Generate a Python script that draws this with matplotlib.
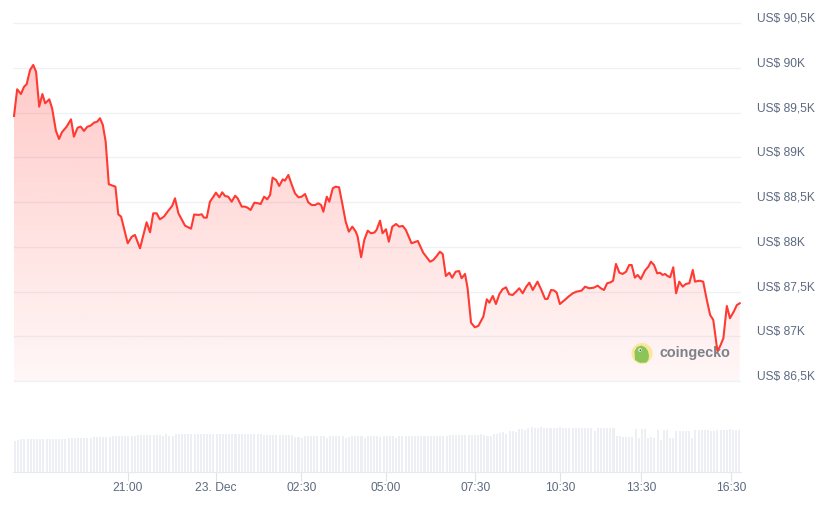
import numpy as np
import matplotlib
matplotlib.use("Agg")
import matplotlib.pyplot as plt
from matplotlib.transforms import Affine2D, blended_transform_factory, ScaledTranslation
from matplotlib.patches import Circle, Polygon

plt.rcParams['font.family'] = ['Liberation Sans', 'DejaVu Sans']

# ---------------- data ----------------
price_x = [
    0.0, 1.0, 2.2, 3.2, 4.0, 5.1, 6.1, 7.0, 8.0, 9.0, 9.9, 11.2, 12.1, 13.3, 14.3, 15.2,
    16.7, 18.1, 19.0, 20.2, 21.2, 22.2, 23.3, 24.3, 25.4, 26.4, 27.3, 28.2, 29.1, 30.1,
    32.2, 33.1, 34.0, 36.1, 37.4, 38.4, 40.0, 42.1, 43.2, 44.2, 45.3, 46.3, 47.6, 49.0,
    50.2, 51.1, 52.2, 54.3, 56.2, 57.2, 58.5, 59.6, 60.3, 61.2, 62.2, 63.3, 64.1, 65.2,
    66.1, 67.0, 68.0, 69.1, 70.2, 71.0, 72.3, 73.3, 74.1, 75.1, 76.3, 77.6, 78.3, 79.4,
    80.4, 81.3, 82.1, 83.2, 84.2, 85.3, 86.0, 87.1, 88.2, 89.2, 90.3, 91.3, 92.4, 93.4,
    94.5, 95.6, 96.6, 97.5, 98.2, 99.3, 100.1, 101.2, 102.1, 103.2, 104.2, 105.3, 106.3,
    107.4, 108.5, 109.1, 110.2, 111.2, 112.3, 113.3, 114.4, 115.1, 116.2, 117.0, 118.1,
    119.0, 120.1, 121.3, 122.3, 123.4, 124.4, 126.2, 128.2, 129.9, 131.0, 132.1, 133.1,
    134.2, 135.2, 136.1, 137.1, 138.2, 139.1, 140.2, 141.3, 142.1, 143.2, 144.0, 145.1,
    146.3, 147.4, 149.0, 150.1, 150.9, 152.0, 153.0, 154.1, 155.1, 156.2, 157.2, 158.3,
    159.4, 160.4, 161.5, 162.5, 163.6, 164.7, 166.2, 167.5, 168.6, 169.4, 170.5, 171.5,
    172.3, 173.3, 174.6, 176.0, 177.4, 178.6, 180.2, 181.3, 182.6, 184.1, 185.3, 186.3,
    187.3, 188.3, 189.4, 190.2, 191.1, 192.2, 193.2, 194.3, 195.3, 196.1, 197.1, 198.0,
    199.0, 200.3, 201.4, 202.2, 203.2, 204.2, 205.1, 205.9, 206.7, 207.5, 208.3, 209.3,
    210.2, 211.2, 212.3, 213.3, 214.4, 215.5, 216.2, 217.6, 218.8, 219.9, 221.0, 222.0,
    223.3, 224.1, 225.2, 226.3, 227.3, 228.5, 229.5, 230.4,
]
price = [
    89463, 89762, 89709, 89791, 89817, 89978, 90034, 89959, 89568, 89709, 89605, 89650,
    89549, 89299, 89206, 89281, 89344, 89426, 89232, 89333, 89344, 89296, 89344, 89355,
    89389, 89400, 89438, 89363, 89176, 88700, 88673, 88364, 88338, 88040, 88114, 88133,
    87984, 88275, 88163, 88375, 88375, 88308, 88338, 88405, 88457, 88543, 88375, 88237,
    88203, 88362, 88357, 88364, 88327, 88327, 88505, 88561, 88606, 88554, 88610, 88569,
    88561, 88505, 88572, 88543, 88450, 88450, 88439, 88412, 88494, 88487, 88479, 88561,
    88532, 88580, 88774, 88748, 88681, 88755, 88740, 88804, 88692, 88599, 88554, 88561,
    88591, 88498, 88468, 88468, 88487, 88468, 88393, 88561, 88505, 88655, 88673, 88666,
    88487, 88282, 88170, 88226, 88170, 88114, 87884, 88077, 88181, 88152, 88160, 88189,
    88293, 88152, 88197, 88058, 88226, 88256, 88226, 88234, 88189, 88040, 88066, 87935,
    87884, 87834, 87853, 87898, 87946, 87920, 87674, 87711, 87655, 87722, 87730, 87649,
    87697, 87537, 87152, 87101, 87116, 87220, 87414, 87376, 87451, 87361, 87473, 87526,
    87548, 87470, 87462, 87499, 87537, 87481, 87548, 87600, 87518, 87611, 87511, 87418,
    87418, 87518, 87512, 87488, 87361, 87399, 87443, 87481, 87499, 87511, 87555, 87537,
    87544, 87566, 87537, 87518, 87593, 87604, 87622, 87809, 87711, 87697, 87722, 87797,
    87797, 87656, 87686, 87641, 87734, 87779, 87834, 87797, 87704, 87711, 87686, 87697,
    87674, 87660, 87772, 87481, 87611, 87555, 87585, 87593, 87742, 87611, 87622, 87611,
    87414, 87239, 87183, 86839, 86884, 86978, 87339, 87202, 87276, 87350, 87369,
]
volume = [
    30.8, 31.5, 32.2, 32.2, 32.5, 32.5, 32.5, 32.5, 32.5, 32.5, 32.5, 32.5, 32.5, 32.5,
    32.5, 32.5, 32.5, 33.5, 33.5, 33.5, 33.5, 33.5, 33.5, 33.5, 33.5, 34.2, 34.5, 34.5,
    34.5, 34.5, 34.5, 35.6, 35.6, 35.6, 35.6, 35.6, 35.6, 35.6, 35.6, 36.5, 36.5, 36.5,
    36.5, 36.5, 36.5, 36.5, 36.5, 35.5, 37.5, 35.5, 35.5, 37.5, 37.5, 37.5, 37.5, 37.5,
    37.5, 37.5, 37.5, 37.5, 37.5, 37.5, 37.5, 37.5, 37.5, 37.5, 37.5, 37.5, 37.5, 37.5,
    37.5, 37.5, 37.5, 37.5, 37.5, 37.5, 37.5, 37.5, 37.5, 36.5, 36.5, 36.5, 36.5, 36.5,
    36.5, 36.5, 36.5, 36.5, 36.5, 34.2, 34.2, 33.5, 35.5, 35.5, 35.5, 35.5, 35.5, 35.5,
    35.5, 33.5, 35.5, 35.5, 35.5, 35.5, 35.5, 33.5, 34.2, 35.5, 35.5, 35.5, 35.5, 33.5,
    35.5, 35.5, 35.5, 35.5, 34.2, 35.5, 35.5, 35.5, 35.5, 33.5, 35.5, 35.5, 35.5, 35.5,
    35.5, 35.5, 35.5, 35.5, 35.5, 35.5, 35.5, 35.5, 35.5, 35.5, 35.5, 35.5, 36.5, 36.5,
    36.5, 36.5, 36.5, 36.5, 36.5, 36.5, 36.5, 36.5, 37.5, 36.5, 35.5, 35.5, 37.5, 37.5,
    38.8, 39.2, 37.5, 40.8, 40.8, 39.8, 42.2, 42.2, 41.5, 43.5, 44.5, 43.5, 43.5, 44.5,
    43.5, 43.5, 43.5, 43.5, 43.5, 44.5, 43.5, 43.5, 43.5, 43.5, 43.5, 43.5, 43.5, 43.5,
    43.5, 43.5, 40.8, 43.5, 43.5, 43.5, 43.5, 43.5, 43.5, 35.5, 35.5, 34.2, 34.2, 34.2,
    34.2, 42.2, 33.2, 42.2, 42.2, 33.2, 34.2, 33.2, 41.5, 31.5, 41.5, 41.5, 33.2, 33.2,
    40.8, 40.8, 40.8, 40.8, 40.8, 33.8, 41.5, 41.5, 41.5, 41.5, 41.5, 40.5, 40.5, 41.5,
    41.5, 41.5, 41.5, 42.5, 41.5, 41.5, 41.5,
]
tick_pos = [36.1, 64.2, 91.2, 118.1, 146.5, 173.4, 199.0, 227.7]
tick_labels = ["21:00", "23. Dec", "02:30", "05:00", "07:30", "10:30", "13:30", "16:30"]
price_ticks = [86500, 87000, 87500, 88000, 88500, 89000, 89500, 90000, 90500]

# ---------------- style ----------------
W, H = 828, 508
LINE = "#ff3a33"
GRID = "#eff2f5"
TEXT = "#5d6a80"
VOL = "#edeff5"
FS = 8.64  # 12 px

fig = plt.figure(figsize=(W / 100, H / 100), dpi=100)
fig.patch.set_facecolor("white")


def fx(px):
    return px / W


def fy(py):
    return 1 - py / H


XLIM = (-0.32, 230.8)

# ---------------- price pane ----------------
top_px, bot_px = 18.8, 385.5
ax = fig.add_axes([fx(13), fy(bot_px), fx(741) - fx(13), (bot_px - top_px) / H])
ax.set_facecolor("none")
ax.hlines(price_ticks, XLIM[0], XLIM[1], color=GRID, lw=1.0, zorder=0)

poly = ax.fill_between(price_x, price, 86500, color="none", lw=0)
n = 256
grad = np.zeros((n, 1, 4))
grad[:, 0, 0] = 255 / 255
grad[:, 0, 1] = 58 / 255
grad[:, 0, 2] = 51 / 255
grad[:, 0, 3] = np.linspace(0.27, 0.04, n)
im = ax.imshow(grad, extent=[price_x[0], price_x[-1], 86500, max(price)],
               aspect="auto", origin="upper", zorder=1, interpolation="bilinear")
im.set_clip_path(poly.get_paths()[0], transform=ax.transData)

ax.plot(price_x, price, color=LINE, lw=1.5, solid_joinstyle="round", zorder=3)

# watermark logo (pixel coordinates)
pxT = Affine2D().scale(1 / W, -1 / H).translate(0, 1) + fig.transFigure
ax.add_patch(Circle((642, 353.5), 10.5, transform=pxT, facecolor="#f9e79c",
                    edgecolor="none", zorder=2, clip_on=False))
gecko = [(635, 360), (634.5, 351), (637, 347), (641.5, 345.5), (645.5, 347.5),
         (648, 351), (649, 355.5), (648.5, 359.5), (646.5, 362.5), (640, 362.8)]
ax.add_patch(Polygon(gecko, closed=True, transform=pxT, facecolor="#8dc45a",
                     edgecolor="none", zorder=2, clip_on=False))
ax.add_patch(Circle((640, 350), 1.7, transform=pxT, facecolor="white",
                    edgecolor="none", zorder=2, clip_on=False))
ax.add_patch(Circle((640.3, 350.2), 0.85, transform=pxT, facecolor="#4a4a4a",
                    edgecolor="none", zorder=2, clip_on=False))
ax.text(660, 353.5, "coingecko", transform=pxT, va="center", ha="left",
        fontsize=10.4, fontweight="bold", color="#7d818a", zorder=2)

ax.set_xlim(*XLIM)
ax.set_ylim(86450, 90550)
ax.axis("off")

# right-side price labels
lab_tr = blended_transform_factory(fig.transFigure, ax.transData) + \
    ScaledTranslation(0, 1.3 / 100, fig.dpi_scale_trans)
for v in price_ticks:
    s = "US$ " + f"{v / 1000:g}".replace(".", ",") + "K"
    ax.text(fx(757), v, s, transform=lab_tr, ha="left", va="baseline",
            fontsize=FS, color=TEXT, clip_on=False)

# ---------------- volume pane ----------------
vtop, vbot = 427.0, 471.5
axv = fig.add_axes([fx(13), fy(vbot), fx(741) - fx(13), (vbot - vtop) / H])
axv.set_facecolor("none")
axv.bar(np.arange(len(volume)), volume, width=0.64, align="edge",
        color=VOL, edgecolor="none")
axv.set_xlim(*XLIM)
axv.set_ylim(0, vbot - vtop)
for s in ("top", "left", "right"):
    axv.spines[s].set_visible(False)
axv.spines["bottom"].set_color("#e6e9ef")
axv.spines["bottom"].set_linewidth(0.8)
axv.set_yticks([])
axv.set_xticks(tick_pos, tick_labels)
axv.tick_params(axis="x", length=6.2, width=0.8, color="#dfe3ea",
                labelsize=FS, labelcolor=TEXT, pad=1.5)

fig.savefig("out.png", dpi=100, facecolor="white")
